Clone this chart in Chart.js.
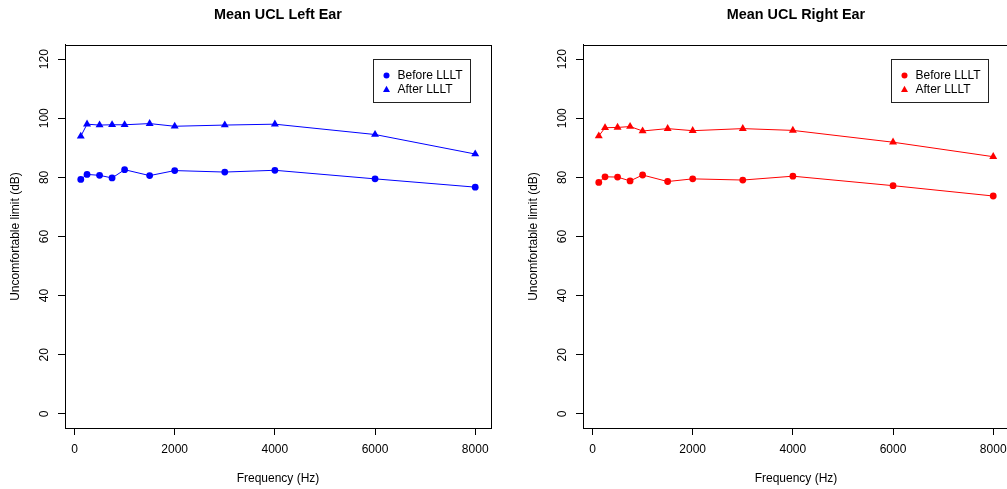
<!DOCTYPE html>
<html>
<head>
<meta charset="utf-8">
<script src="https://cdn.jsdelivr.net/npm/chart.js@4.4.1/dist/chart.umd.min.js"></script>
<style>
  html, body { margin: 0; padding: 0; background: #fff; overflow: hidden; width: 1007px; height: 489px; }
  .panel { position: absolute; top: 0; width: 518px; height: 489px; }
</style>
</head>
<body>
<div class="panel" style="left:0"><canvas id="leftEar" width="518" height="489"></canvas></div>
<div class="panel" style="left:518px"><canvas id="rightEar" width="518" height="489"></canvas></div>
<script>
// frequencies (Hz)
const freqs = [125, 250, 500, 750, 1000, 1500, 2000, 3000, 4000, 6000, 8000];

// mean UCL (dB)
const leftBefore  = [79.3, 81.0, 80.7, 79.8, 82.6, 80.6, 82.3, 81.8, 82.4, 79.5, 76.7];
const leftAfter   = [93.9, 98.0, 97.7, 97.8, 97.8, 98.2, 97.3, 97.7, 98.0, 94.5, 87.9];
const rightBefore = [78.3, 80.2, 80.1, 78.8, 80.8, 78.6, 79.5, 79.1, 80.4, 77.2, 73.7];
const rightAfter  = [94.0, 96.8, 96.9, 97.2, 95.7, 96.5, 95.8, 96.5, 95.9, 91.9, 87.0];

const xTicks = [0, 2000, 4000, 6000, 8000];
const yTicks = [0, 20, 40, 60, 80, 100, 120];

const FONT = '"Liberation Sans", Arial, Helvetica, sans-serif';

// R-ish extras: plot box, rotated y tick labels, legend
const rStyle = {
  id: 'rStyle',
  afterDraw(chart) {
    const { ctx, chartArea: a, scales: { y } } = chart;
    ctx.save();
    ctx.strokeStyle = '#000';
    ctx.lineWidth = 1;
    ctx.strokeRect(Math.round(a.left) + 0.5, Math.round(a.top) + 0.5,
                   Math.round(a.right - a.left), Math.round(a.bottom - a.top));

    ctx.fillStyle = '#000';
    ctx.font = '12px ' + FONT;
    ctx.textAlign = 'center';
    ctx.textBaseline = 'alphabetic';
    y.ticks.forEach(t => {
      const py = y.getPixelForValue(t.value);
      ctx.save();
      ctx.translate(a.left - 17, py);
      ctx.rotate(-Math.PI / 2);
      ctx.fillText(String(t.value), 0, 0);
      ctx.restore();
    });

    // legend
    const bx = Math.round(a.right - 118) + 0.5, by = Math.round(a.top + 14) + 0.5;
    const bw = 97, bh = 43;
    ctx.strokeStyle = '#222';
    ctx.strokeRect(bx, by, bw, bh);
    ctx.textAlign = 'left';
    ctx.textBaseline = 'middle';
    chart.data.datasets.forEach((ds, i) => {
      const my = by + 16 + i * 14;
      const mx = bx + 13;
      ctx.fillStyle = ds.borderColor;
      ctx.beginPath();
      if (ds.pointStyle === 'triangle') {
        ctx.moveTo(mx, my - 3.8);
        ctx.lineTo(mx + 3.5, my + 2.4);
        ctx.lineTo(mx - 3.5, my + 2.4);
        ctx.closePath();
      } else {
        ctx.arc(mx, my, 3, 0, Math.PI * 2);
      }
      ctx.fill();
      ctx.fillStyle = '#000';
      ctx.fillText(ds.label, bx + 24, my);
    });
    ctx.restore();
  }
};

function makeChart(id, title, color, before, after) {
  const ctx = document.getElementById(id).getContext('2d');
  return new Chart(ctx, {
    type: 'line',
    data: {
      datasets: [
        {
          label: 'Before LLLT',
          data: freqs.map((f, i) => ({ x: f, y: before[i] })),
          borderColor: color,
          backgroundColor: color,
          borderWidth: 1,
          pointStyle: 'circle',
          pointRadius: 3.4,
          pointBorderWidth: 0,
          tension: 0
        },
        {
          label: 'After LLLT',
          data: freqs.map((f, i) => ({ x: f, y: after[i] })),
          borderColor: color,
          backgroundColor: color,
          borderWidth: 1,
          pointStyle: 'triangle',
          pointRadius: 4.6,
          pointBorderWidth: 0,
          tension: 0
        }
      ]
    },
    options: {
      responsive: false,
      animation: false,
      devicePixelRatio: 1,
      layout: { padding: { left: 0, right: 27, top: 0, bottom: 0 } },
      plugins: {
        legend: { display: false },
        tooltip: { enabled: false },
        title: {
          display: true,
          text: title,
          fullSize: false,
          color: '#000',
          font: { size: 14.4, weight: 'bold', family: FONT },
          padding: { top: 6.4, bottom: 21.3 }
        }
      },
      scales: {
        x: {
          type: 'linear',
          min: -190,
          max: 8315,
          afterBuildTicks: s => { s.ticks = xTicks.map(v => ({ value: v })); },
          afterFit: s => { s.height = 61; },
          ticks: {
            color: '#000',
            font: { size: 12, family: FONT },
            padding: 7,
            maxRotation: 0,
            autoSkip: false,
            callback: v => String(v)
          },
          grid: { drawOnChartArea: false, drawTicks: true, tickLength: 7, color: '#000' },
          border: { display: true, color: '#000' },
          title: {
            display: true,
            text: 'Frequency (Hz)',
            color: '#000',
            font: { size: 12, family: FONT },
            padding: { top: 0, bottom: 3 }
          }
        },
        y: {
          type: 'linear',
          min: -4.8,
          max: 124.8,
          afterBuildTicks: s => { s.ticks = yTicks.map(v => ({ value: v })); },
          afterFit: s => { s.width = 65; },
          ticks: { display: false },
          grid: { drawOnChartArea: false, drawTicks: true, tickLength: 7, color: '#000' },
          border: { display: true, color: '#000' },
          title: {
            display: true,
            text: 'Uncomfortable limit (dB)',
            color: '#000',
            font: { size: 12, family: FONT },
            padding: { top: 8, bottom: 0 }
          }
        }
      }
    },
    plugins: [rStyle]
  });
}

makeChart('leftEar', 'Mean UCL Left Ear', '#0000FF', leftBefore, leftAfter);
makeChart('rightEar', 'Mean UCL Right Ear', '#FF0000', rightBefore, rightAfter);
</script>
</body>
</html>
